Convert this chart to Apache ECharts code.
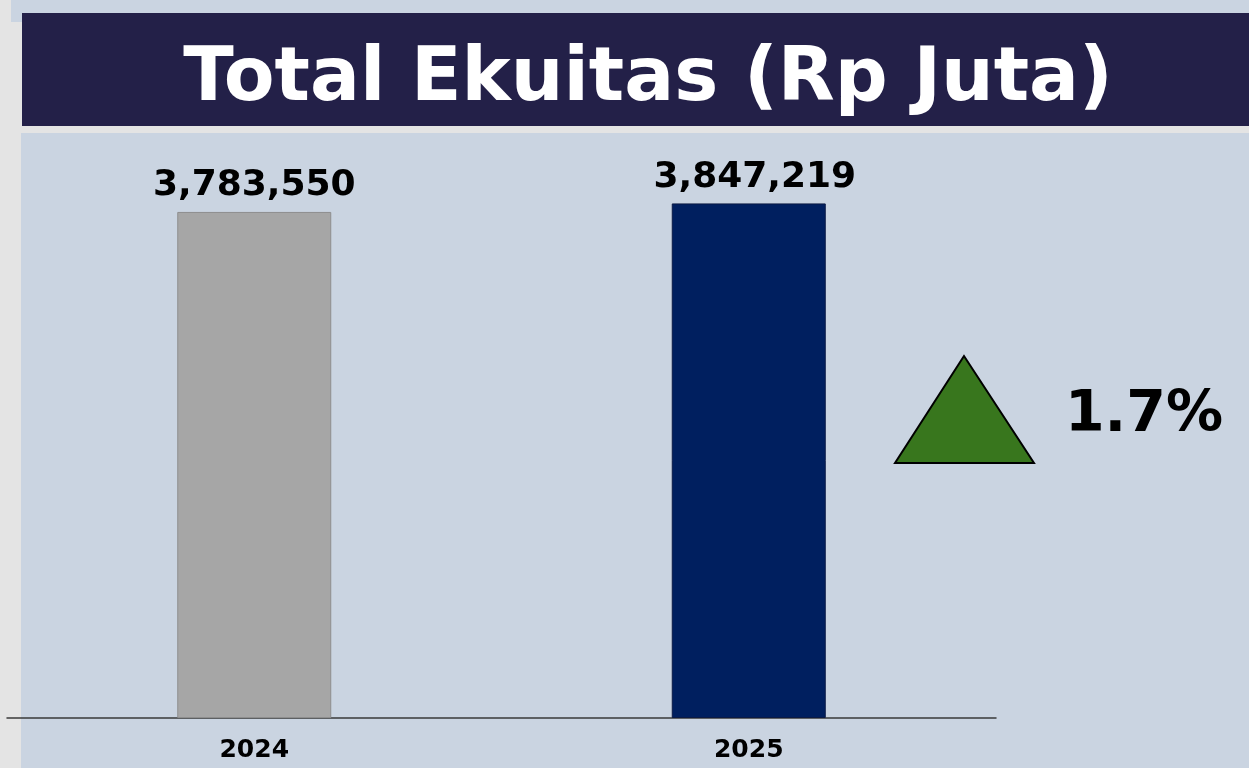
<!DOCTYPE html>
<html>
<head>
<meta charset="utf-8">
<script src="https://cdn.jsdelivr.net/npm/echarts@6/dist/echarts.min.js"></script>
<style>
html,body{margin:0;padding:0;background:#E4E4E4;}
#c{width:1249px;height:768px;}
</style>
</head>
<body>
<div id="c"></div>
<script>
const titleText = 'Total Ekuitas (Rp Juta)';
const categories = ['2024', '2025'];
const values = [3783550, 3847219];
const barColors = ['#A6A6A6', '#001F5F'];
const barBorders = ['#8E8E8E', '#0B1A45'];

const growth = ((values[1] / values[0] - 1) * 100).toFixed(1) + '%';
const FONT = 'DejaVu Sans';

const chart = echarts.init(document.getElementById('c'), null, {renderer: 'canvas'});
chart.setOption({
  backgroundColor: '#E4E4E4',
  animation: false,
  grid: {left: 7, right: 253, top: 183, bottom: 50},
  xAxis: {
    type: 'category',
    data: categories,
    axisLine: {show: true, lineStyle: {color: '#3A3A3A', width: 1.5}},
    axisTick: {show: false},
    axisLabel: {color: '#000', fontFamily: FONT, fontWeight: 'bold', fontSize: 25, margin: 20}
  },
  yAxis: {type: 'value', min: 0, max: 4000000, show: false, splitLine: {show: false}},
  graphic: [
    {type: 'rect', z: -10, shape: {x: 11, y: 0, width: 1238, height: 22}, style: {fill: '#CAD4E1'}},
    {type: 'rect', z: -10, shape: {x: 21, y: 133, width: 1228, height: 635}, style: {fill: '#CAD4E1'}},
    {type: 'rect', z: -9, shape: {x: 22, y: 13, width: 1227, height: 113}, style: {fill: '#232048'}},
    {type: 'text', z: 10, x: 648, y: 81, style: {text: titleText, fill: '#FFFFFF', font: 'bold 74px "DejaVu Sans"', textAlign: 'center', textVerticalAlign: 'middle'}},
    {type: 'polygon', z: 10, shape: {points: [[964, 356], [895, 463], [1034, 463]]}, style: {fill: '#38761D', stroke: '#000', lineWidth: 2}},
    {type: 'text', z: 10, x: 1144, y: 416, style: {text: growth, fill: '#000', font: 'bold 57px "DejaVu Sans"', textAlign: 'center', textVerticalAlign: 'middle'}}
  ],
  series: [{
    type: 'bar',
    barWidth: 154,
    data: values.map((v, i) => ({
      value: v,
      itemStyle: {color: barColors[i], borderColor: barBorders[i], borderWidth: 1},
      label: {offset: [i === 1 ? 6 : 0, 0]}
    })),
    label: {
      show: true, position: 'top', distance: 8,
      color: '#000', fontFamily: FONT, fontWeight: 'bold', fontSize: 36,
      formatter: p => p.value.toLocaleString('en-US')
    }
  }]
});
</script>
</body>
</html>
